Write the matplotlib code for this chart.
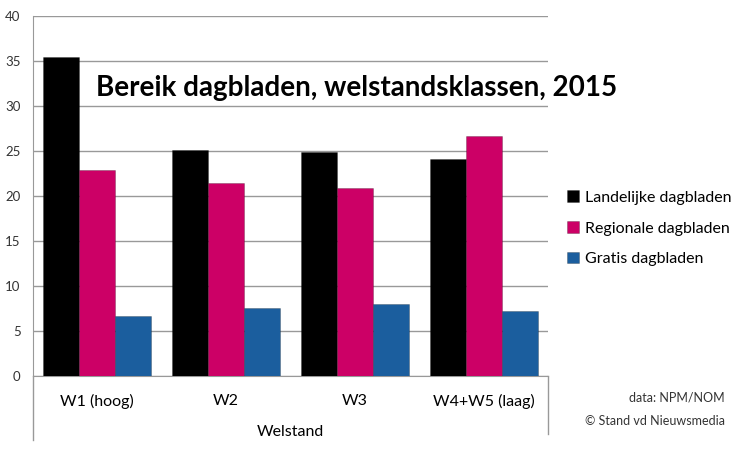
import matplotlib
matplotlib.use("Agg")
import matplotlib.pyplot as plt
import numpy as np

categories = ["W1 (hoog)", "W2", "W3", "W4+W5 (laag)"]
series_names = ["Landelijke dagbladen", "Regionale dagbladen", "Gratis dagbladen"]
landelijk = [35.4, 25.1, 24.9, 24.1]
regionaal = [22.9, 21.4, 20.9, 26.7]
gratis = [6.7, 7.6, 8.0, 7.2]
colors = ["#000000", "#CC0066", "#1B5E9E"]
yticks = [0, 5, 10, 15, 20, 25, 30, 35, 40]

plt.rcParams['font.family'] = ['Lato', 'DejaVu Sans']

fig = plt.figure(figsize=(7.5, 4.5), dpi=100)
ax = fig.add_axes([33/750, 74/450, (548-33)/750, 360/450])

x = np.arange(len(categories))
w = 0.28
for i, (vals, c, name) in enumerate(zip([landelijk, regionaal, gratis], colors, series_names)):
    ax.bar(x + (i - 1) * w, vals, width=w, color=c, label=name, zorder=3,
           edgecolor=(0, 0, 0, 0.25), linewidth=0.6)

ax.set_xlim(-0.5, len(categories) - 0.5)
ax.set_ylim(0, 40)
ax.set_yticks(yticks)
ax.set_yticklabels([str(t) for t in yticks], fontsize=9.5, color="#333333")
ax.tick_params(axis='y', length=0, pad=9)
ax.set_xticks(x)
ax.set_xticklabels(categories, fontsize=11.5)
ax.tick_params(axis='x', length=0, pad=13)
ax.yaxis.grid(True, color="#999999", linewidth=1, zorder=0)
ax.set_axisbelow(True)
for s in ["top", "right"]:
    ax.spines[s].set_visible(False)
ax.spines["left"].set_color("#999999")
ax.spines["bottom"].set_color("#999999")
ax.spines["left"].set_bounds(0, 40)

# extended category box lines
ax.plot([0, 0], [0, -64/360], transform=ax.transAxes, color="#999999", lw=1, clip_on=False)
ax.plot([1, 1], [0, -58/360], transform=ax.transAxes, color="#999999", lw=1, clip_on=False)

fig.text(290/750, 1 - 432/450, "Welstand", ha="center", va="center", fontsize=11.5)

fig.text(357/750, 1 - 88/450, "Bereik dagbladen, welstandsklassen, 2015",
         ha="center", va="center", fontsize=20, fontweight="bold")

leg = fig.legend(loc="upper left", bbox_to_anchor=(553/750, 1 - 176/450), frameon=False,
                 fontsize=11.5, handlelength=0.7, handleheight=0.7, handletextpad=0.4,
                 labelspacing=1.05)

fig.text(725/750, 1 - 398/450, "data: NPM/NOM", ha="right", va="center", fontsize=9, color="#333333")
fig.text(725/750, 1 - 421/450, "© Stand vd Nieuwsmedia", ha="right", va="center", fontsize=9, color="#333333")

fig.savefig("out.png", dpi=100)
